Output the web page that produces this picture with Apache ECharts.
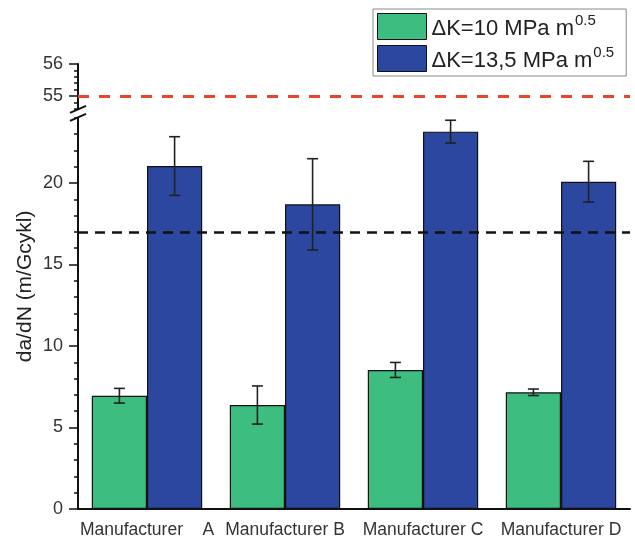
<!DOCTYPE html>
<html>
<head>
<meta charset="utf-8">
<script src="https://cdn.jsdelivr.net/npm/echarts@6/dist/echarts.min.js"></script>
<style>html,body{margin:0;padding:0;background:#fff;}#c{width:635px;height:541px;}</style>
</head>
<body>
<div id="c"></div>
<script>
// ---- data ----
const categories = ['Manufacturer    A', 'Manufacturer B', 'Manufacturer C', 'Manufacturer D'];
const seriesNames = ['ΔK=10 MPa m0.5', 'ΔK=13,5 MPa m0.5'];
const values10 = [6.95, 6.38, 8.53, 7.16];
const err10 = [0.45, 1.17, 0.46, 0.2];
const values135 = [21.04, 18.69, 23.15, 20.08];
const err135 = [1.8, 2.8, 0.7, 1.25];
const blackLineValue = 17;
const redLineValue = 55;
const lowerRange = [0, 24];
const lowerLabelRange = [0, 20];
const upperRange = [54.6, 56];
const upperLabelRange = [55, 56];

// ---- layout ----
const W = 635, H = 541;
const plotLeft = 78, plotRight = 630;
const zeroY = 509, pxLow = 16.3;
const upperTopY = 64, pxUp = 32;
const green = '#3dbd80', blue = '#2b479f';
const textColor = '#333';
const fontFamily = 'Arial, "Liberation Sans", sans-serif';

function gridFor(top, bottomY) {
  return { left: plotLeft, right: W - plotRight, top: top, height: bottomY - top, containLabel: false };
}
const lowerTopY = zeroY - (lowerRange[1] - lowerRange[0]) * pxLow;
const lowerLabTopY = zeroY - (lowerLabelRange[1] - lowerLabelRange[0]) * pxLow;
const upperBottomY = upperTopY + (upperRange[1] - upperRange[0]) * pxUp;
const upperLabBottomY = upperTopY + (upperLabelRange[1] - upperLabelRange[0]) * pxUp;

const hiddenX = (gi) => ({ type: 'category', data: categories, gridIndex: gi, show: false });

function errSeries(name, vals, errs, sign) {
  return {
    type: 'custom', name: name + '_err', xAxisIndex: 2, yAxisIndex: 2, z: 5, silent: true,
    data: vals.map((v, i) => [i, v, errs[i]]),
    renderItem: function (params, api) {
      const i = api.value(0), v = api.value(1), e = api.value(2);
      const band = api.size([1, 0])[0];
      const off = sign * band * 0.8 / 4;
      const c = api.coord([i, v]);
      const x = c[0] + off;
      const yt = api.coord([i, v + e])[1];
      const yb = api.coord([i, v - e])[1];
      const cap = 5.5;
      const st = { stroke: '#222', lineWidth: 1.6 };
      return { type: 'group', children: [
        { type: 'line', shape: { x1: x, y1: yt, x2: x, y2: yb }, style: st },
        { type: 'line', shape: { x1: x - cap, y1: yt, x2: x + cap, y2: yt }, style: st },
        { type: 'line', shape: { x1: x - cap, y1: yb, x2: x + cap, y2: yb }, style: st }
      ]};
    }
  };
}

const chart = echarts.init(document.getElementById('c'), null, { renderer: 'canvas' });
const option = {
  animation: false,
  backgroundColor: '#fff',
  textStyle: { fontFamily: fontFamily },
  grid: [
    gridFor(upperTopY, upperBottomY),
    gridFor(upperTopY, upperLabBottomY),
    gridFor(lowerTopY, zeroY),
    gridFor(lowerLabTopY, zeroY)
  ],
  xAxis: [
    hiddenX(0),
    hiddenX(1),
    {
      type: 'category', data: categories, gridIndex: 2,
      axisLine: { lineStyle: { color: '#111', width: 2 } },
      axisTick: { alignWithLabel: true, length: 8, lineStyle: { color: '#111', width: 1.5 } },
      axisLabel: { color: textColor, fontSize: 17.5, margin: 12, interval: 0, fontFamily: fontFamily }
    },
    {
      type: 'category', data: categories, gridIndex: 3,
      axisLine: { show: false },
      axisTick: { length: 4, lineStyle: { color: '#111', width: 1.5 } },
      axisLabel: { show: false }
    }
  ],
  yAxis: [
    { type: 'value', gridIndex: 0, min: upperRange[0], max: upperRange[1], interval: 0.2,
      axisLine: { show: true, lineStyle: { color: '#111', width: 2 } },
      axisTick: { show: true, length: 4, lineStyle: { color: '#111', width: 1.5 } },
      axisLabel: { show: false }, splitLine: { show: false } },
    { type: 'value', gridIndex: 1, min: upperLabelRange[0], max: upperLabelRange[1], interval: 1,
      axisLine: { show: false },
      axisTick: { show: true, length: 9, lineStyle: { color: '#111', width: 1.5 } },
      axisLabel: { color: textColor, fontSize: 18, margin: 15, fontFamily: fontFamily }, splitLine: { show: false } },
    { type: 'value', gridIndex: 2, min: lowerRange[0], max: lowerRange[1], interval: 1,
      axisLine: { show: true, lineStyle: { color: '#111', width: 2 } },
      axisTick: { show: true, length: 4, lineStyle: { color: '#111', width: 1.5 } },
      axisLabel: { show: false }, splitLine: { show: false } },
    { type: 'value', gridIndex: 3, min: lowerLabelRange[0], max: lowerLabelRange[1], interval: 5,
      axisLine: { show: false },
      axisTick: { show: true, length: 9, lineStyle: { color: '#111', width: 1.5 } },
      axisLabel: { color: textColor, fontSize: 18, margin: 15, fontFamily: fontFamily }, splitLine: { show: false } }
  ],
  legend: {
    orient: 'vertical', left: 373, top: 9,
    data: seriesNames,
    itemWidth: 49, itemHeight: 26, itemGap: 5,
    padding: [4, 12, 4, 4],
    borderColor: '#888', borderWidth: 1,
    icon: 'rect',
    itemStyle: { borderColor: '#111', borderWidth: 1 },
    formatter: function (n) {
      return '{b|' + n.replace('m0.5', 'm') + '}{s|0.5}';
    },
    textStyle: {
      color: '#222', fontFamily: fontFamily,
      rich: {
        b: { fontSize: 22, color: '#222', fontFamily: fontFamily, padding: [4, 0, 0, 0] },
        s: { fontSize: 15, color: '#222', fontFamily: fontFamily, verticalAlign: 'top', padding: [0, 0, 8, 1] }
      }
    }
  },
  series: [
    {
      type: 'bar', name: seriesNames[0], xAxisIndex: 2, yAxisIndex: 2,
      data: values10, barGap: '0%', barCategoryGap: '20%',
      itemStyle: { color: green, borderColor: '#111', borderWidth: 1.2 },
      markLine: {
        silent: true, symbol: 'none', label: { show: false },
        lineStyle: { color: '#111', type: [10, 7], width: 2.5 },
        data: [{ yAxis: blackLineValue }]
      }
    },
    {
      type: 'bar', name: seriesNames[1], xAxisIndex: 2, yAxisIndex: 2,
      data: values135, barGap: '0%', barCategoryGap: '20%',
      itemStyle: { color: blue, borderColor: '#111', borderWidth: 1.2 }
    },
    errSeries('a', values10, err10, -1),
    errSeries('b', values135, err135, 1),
    {
      type: 'line', name: 'ref', xAxisIndex: 0, yAxisIndex: 0, data: [null, null, null, null],
      silent: true, symbol: 'none',
      markLine: {
        silent: true, symbol: 'none', label: { show: false },
        lineStyle: { color: '#e8452c', type: [11, 10], width: 3 },
        data: [{ yAxis: redLineValue }]
      }
    }
  ],
  graphic: []
};
chart.setOption(option);

// axis break marks and y-axis title, positioned from the axes
const yBreakTop = chart.convertToPixel({ yAxisIndex: 0 }, upperRange[0]);
const yBreakBot = chart.convertToPixel({ yAxisIndex: 2 }, lowerRange[1]);
const xAx = chart.convertToPixel({ xAxisIndex: 2 }, 0) - (chart.convertToPixel({ xAxisIndex: 2 }, 1) - chart.convertToPixel({ xAxisIndex: 2 }, 0)) / 2;
const slash = (yc) => ({ type: 'line', shape: { x1: xAx - 8, y1: yc + 3.5, x2: xAx + 8, y2: yc - 3.5 }, style: { stroke: '#111', lineWidth: 2 } });
chart.setOption({
  graphic: [
    slash(yBreakTop + 0.5),
    slash(yBreakBot - 0.5),
    { type: 'text', x: 25, y: (zeroY + lowerTopY) / 2 - 27, rotation: Math.PI / 2,
      style: { text: 'da/dN (m/Gcykl)', fill: '#222', fontSize: 21, fontFamily: fontFamily, align: 'center', verticalAlign: 'middle' } }
  ]
});
</script>
</body>
</html>
